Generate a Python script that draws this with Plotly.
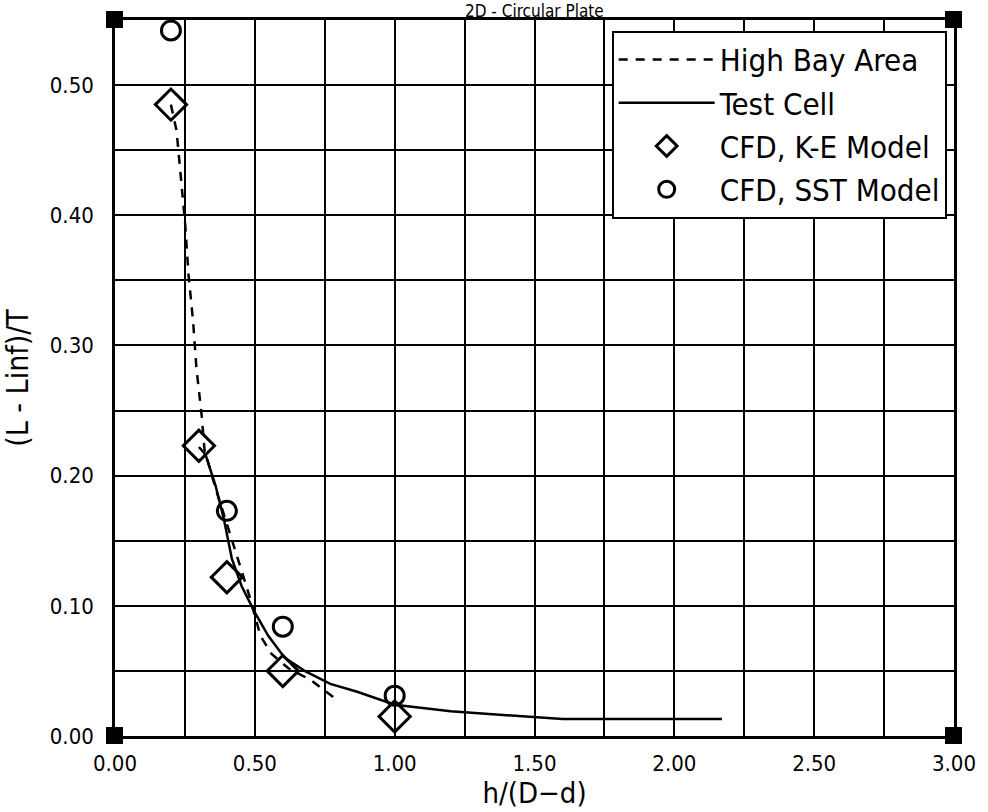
import plotly.graph_objects as go

# ---- data ----
hb_x = [0.20, 0.22, 0.236, 0.251, 0.263, 0.279, 0.291, 0.301, 0.31, 0.32, 0.36, 0.40, 0.45, 0.48, 0.52, 0.56, 0.62, 0.70, 0.78]
hb_y = [0.485, 0.465, 0.428, 0.393, 0.354, 0.319, 0.283, 0.265, 0.246, 0.220, 0.190, 0.163, 0.128, 0.108, 0.077, 0.063, 0.052, 0.043, 0.030]

tc_x = [0.30, 0.324, 0.36, 0.39, 0.418, 0.453, 0.50, 0.548, 0.607, 0.678, 0.77, 0.866, 1.00, 1.20, 1.40, 1.60, 1.80, 2.00, 2.17]
tc_y = [0.222, 0.216, 0.192, 0.166, 0.136, 0.115, 0.095, 0.077, 0.060, 0.050, 0.040, 0.034, 0.024, 0.019, 0.016, 0.013, 0.013, 0.013, 0.013]

ke_x = [0.20, 0.30, 0.40, 0.60, 1.00]
ke_y = [0.485, 0.223, 0.122, 0.050, 0.015]

sst_x = [0.20, 0.40, 0.60, 1.00]
sst_y = [0.542, 0.173, 0.084, 0.031]

x_ticks = [0.0, 0.5, 1.0, 1.5, 2.0, 2.5, 3.0]
y_ticks = [0.0, 0.1, 0.2, 0.3, 0.4, 0.5]

FONT = "DejaVu Sans Condensed, Liberation Sans Narrow, sans-serif"

fig = go.Figure()
fig.add_trace(go.Scatter(x=hb_x, y=hb_y, mode="lines", name="High Bay Area",
                         line=dict(color="black", width=2.5, dash="9px,8px")))
fig.add_trace(go.Scatter(x=tc_x, y=tc_y, mode="lines", name="Test Cell",
                         line=dict(color="black", width=2.5)))
fig.add_trace(go.Scatter(x=ke_x, y=ke_y, mode="markers", name="CFD, K-E Model",
                         marker=dict(symbol="diamond-open", size=24, color="black",
                                     line=dict(width=3, color="black")), cliponaxis=False))
fig.add_trace(go.Scatter(x=sst_x, y=sst_y, mode="markers", name="CFD, SST Model",
                         marker=dict(symbol="circle-open", size=19, color="black",
                                     line=dict(width=3, color="black")), cliponaxis=False))

# corner squares (paper-referenced so they are not clipped)
shapes = []
for xv, yv in [(0, 0), (1, 0), (0, 1), (1, 1)]:
    shapes.append(dict(type="rect", xref="paper", yref="paper", xsizemode="pixel", ysizemode="pixel",
                       xanchor=xv, yanchor=yv, x0=-9, x1=8, y0=-8, y1=9,
                       fillcolor="black", line=dict(width=0), layer="above"))

fig.update_layout(
    width=988, height=812,
    margin=dict(l=115, r=25, t=20, b=70),
    paper_bgcolor="white", plot_bgcolor="white",
    font=dict(family=FONT, color="black", size=20),
    shapes=shapes,
    showlegend=True,
    legend=dict(x=0.592, y=0.985, xanchor="left", yanchor="top",
                bgcolor="white", bordercolor="black", borderwidth=2,
                font=dict(family=FONT, size=31, color="black"),
                itemwidth=96, tracegroupgap=0),
    annotations=[dict(text="2D - Circular Plate", x=0.5, y=1.0, xref="paper", yref="paper",
                      yanchor="bottom", yshift=-2, borderpad=0, showarrow=False,
                      font=dict(family=FONT, size=17))],
)
fig.update_xaxes(range=[0, 3], tickvals=x_ticks, ticktext=[f"{v:.2f}" for v in x_ticks],
                 showgrid=True, gridcolor="black", gridwidth=2,
                 minor=dict(dtick=0.25, showgrid=True, gridcolor="black", gridwidth=2),
                 showline=True, linecolor="black", linewidth=2.5, mirror=True,
                 ticks="", zeroline=False, ticklabelstandoff=6,
                 tickfont=dict(size=22),
                 title=dict(text="h/(D−d)", font=dict(size=29), standoff=4))
fig.update_yaxes(range=[0, 0.55], tickvals=y_ticks, ticktext=[f"{v:.2f}" for v in y_ticks],
                 showgrid=True, gridcolor="black", gridwidth=2,
                 minor=dict(dtick=0.05, showgrid=True, gridcolor="black", gridwidth=2),
                 showline=True, linecolor="black", linewidth=2.5, mirror=True,
                 ticks="", zeroline=False, ticklabelstandoff=14,
                 tickfont=dict(size=22),
                 title=dict(text="(L - Linf)/T", font=dict(size=30), standoff=14))

fig.write_html("out.html")
